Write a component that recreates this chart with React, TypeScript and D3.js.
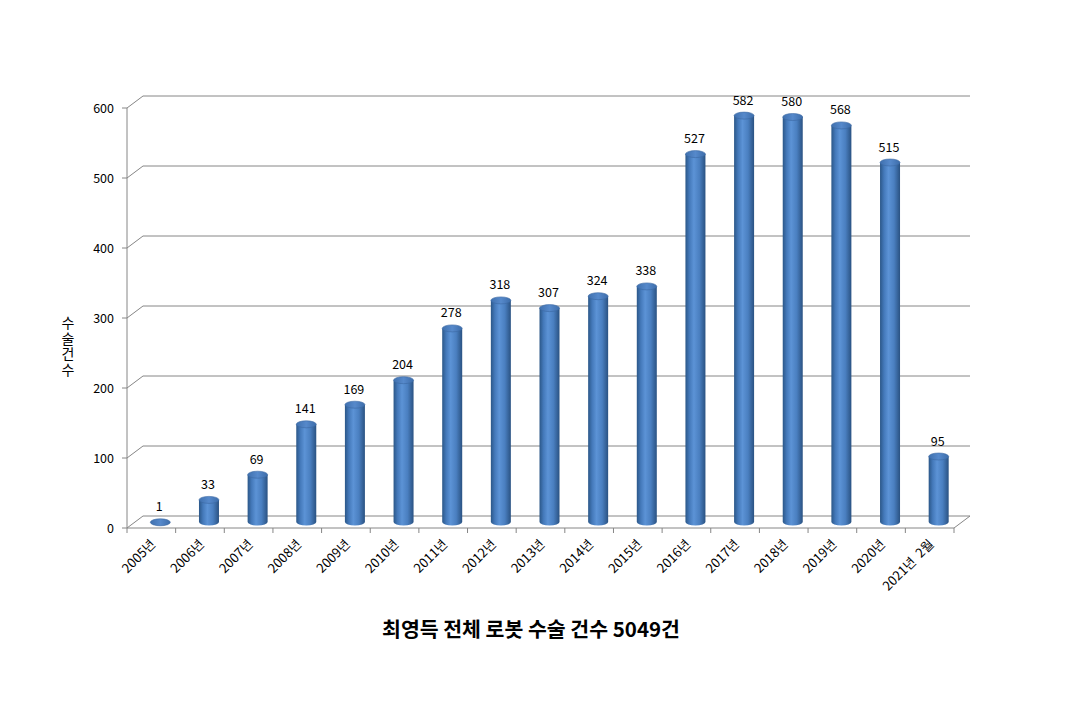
import React from "react";
import * as d3 from "d3";

const categories = [
  "2005년", "2006년", "2007년", "2008년", "2009년", "2010년", "2011년", "2012년",
  "2013년", "2014년", "2015년", "2016년", "2017년", "2018년", "2019년", "2020년", "2021년  2월",
];
const values = [1, 33, 69, 141, 169, 204, 278, 318, 307, 324, 338, 527, 582, 580, 568, 515, 95];
const yTicks = [0, 100, 200, 300, 400, 500, 600];
const title = "최영득 전체 로봇 수술 건수 5049건";
const yTitle = "수술건수";

const W = 1080;
const H = 720;
const X0 = 127;
const X1 = 954;
const DX = 16;
const DY = -12;
const FONT = "'Noto Sans CJK KR', 'Noto Sans', sans-serif";

export default function App() {
  const x = d3.scaleBand<string>().domain(categories).range([X0, X1]).padding(0);
  const y = d3.scaleLinear().domain([0, 600]).range([528, 108]);
  const bw = x.bandwidth();
  const rx = 10;
  const ry = 3.5;
  const gridColor = "#868686";

  return (
    <svg
      width={W}
      height={H}
      style={{ position: "absolute", left: 0, top: 0, background: "#fff" }}
      fontFamily={FONT}
    >
      <defs>
        <linearGradient id="cyl" x1="0" x2="1" y1="0" y2="0">
          <stop offset="0%" stopColor="#2B5788" />
          <stop offset="20%" stopColor="#4479BA" />
          <stop offset="42%" stopColor="#5C93D6" />
          <stop offset="70%" stopColor="#4A7FC0" />
          <stop offset="100%" stopColor="#2A5282" />
        </linearGradient>
        <linearGradient id="cap" x1="0" x2="1" y1="0" y2="0">
          <stop offset="0%" stopColor="#3F70AE" />
          <stop offset="50%" stopColor="#5689CB" />
          <stop offset="100%" stopColor="#3D6DAA" />
        </linearGradient>
      </defs>

      {/* back wall gridlines and side diagonals */}
      {yTicks.map((t) => (
        <g key={"g" + t}>
          <line x1={X0} y1={y(t)} x2={X0 + DX} y2={y(t) + DY} stroke={gridColor} />
          <line x1={X0 + DX} y1={y(t) + DY} x2={X1 + DX} y2={y(t) + DY} stroke={gridColor} />
          <line x1={X0 - 5} y1={y(t)} x2={X0} y2={y(t)} stroke={gridColor} />
          <text x={X0 - 13} y={y(t) + 4.5} fontSize={12.5} textAnchor="end" fill="#000">
            {t}
          </text>
        </g>
      ))}

      {/* floor */}
      <line x1={X0} y1={y(0)} x2={X1} y2={y(0)} stroke={gridColor} />
      <line x1={X1} y1={y(0)} x2={X1 + DX} y2={y(0) + DY} stroke={gridColor} />
      <line x1={X0} y1={y(600)} x2={X0} y2={y(0) + 5} stroke={gridColor} />
      {categories.map((c, i) => (
        <line
          key={"t" + i}
          x1={(x(c) as number) + bw}
          x2={(x(c) as number) + bw}
          y1={y(0)}
          y2={y(0) + 5}
          stroke={gridColor}
        />
      ))}

      {/* bars */}
      {categories.map((c, i) => {
        const cx = (x(c) as number) + bw / 2 + DX / 2 + 1;
        const yb = y(0) + DY / 2;
        const yt = y(values[i]) + DY / 2 + 1;
        const l = cx - rx;
        const r = cx + rx;
        return (
          <g key={"b" + i}>
            <path
              d={`M${l},${yt} L${l},${yb} A${rx},${ry} 0 0 0 ${r},${yb} L${r},${yt} Z`}
              fill="url(#cyl)"
            />
            <ellipse cx={cx} cy={yt} rx={rx} ry={ry} fill="url(#cap)" stroke="#3A68A3" strokeWidth={0.6} />
            <text x={cx - 1} y={yt - 11} fontSize={12.5} textAnchor="middle" fill="#000">
              {values[i]}
            </text>
          </g>
        );
      })}

      {/* category labels */}
      {categories.map((c, i) => {
        const lx = (x(c) as number) + bw / 2 + 5;
        const ly = y(0) + 17;
        return (
          <text
            key={"l" + i}
            x={lx}
            y={ly}
            fontSize={13}
            textAnchor="end"
            transform={`rotate(-45 ${lx} ${ly})`}
            fill="#000"
            style={{ whiteSpace: "pre" }}
          >
            {c}
          </text>
        );
      })}

      {/* y title: vertical upright characters */}
      <text
        x={68}
        y={316}
        fontSize={14}
        fill="#000"
        style={{ writingMode: "vertical-rl", textOrientation: "upright" } as React.CSSProperties}
        letterSpacing={1.5}
      >
        {yTitle}
      </text>

      <text x={531} y={637} fontSize={20.5} fontWeight="bold" textAnchor="middle" fill="#000">
        {title}
      </text>
    </svg>
  );
}
